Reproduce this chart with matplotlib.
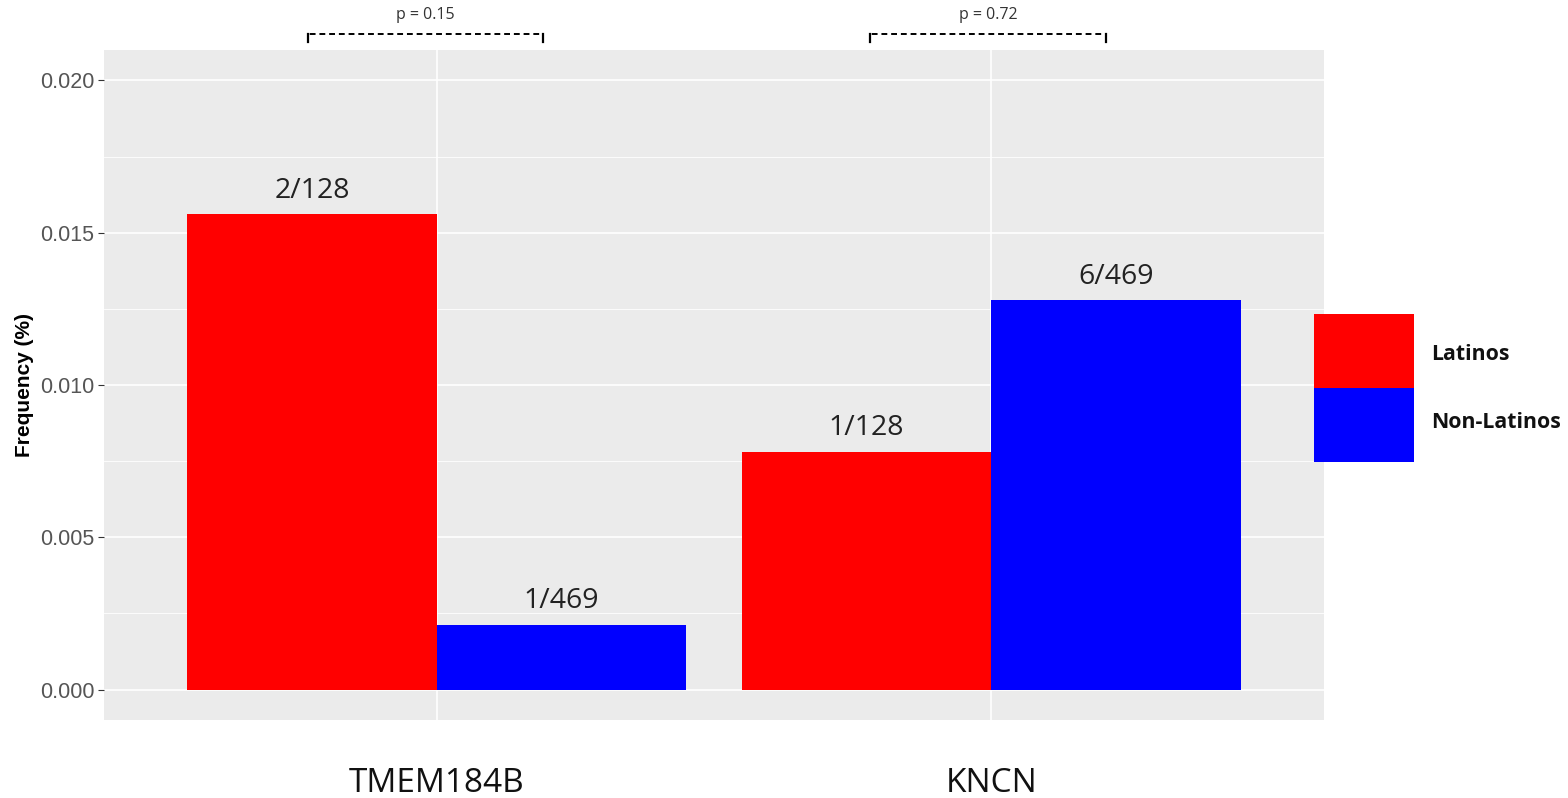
import matplotlib
matplotlib.use("Agg")
import matplotlib.pyplot as plt
from matplotlib.patches import Rectangle
import numpy as np

genes = ["TMEM184B", "KNCN"]
groups = ["Latinos", "Non-Latinos"]
latinos = [2/128, 1/128]
non_latinos = [1/469, 6/469]
lat_labels = ["2/128", "1/128"]
non_labels = ["1/469", "6/469"]
p_values = ["p = 0.15", "p = 0.72"]
colors = ["#FF0000", "#0000FF"]

W, H = 1568, 798
fig = plt.figure(figsize=(W / 100, H / 100), dpi=100)
ax = fig.add_axes([104/W, 78/H, 1220/W, 670/H])
ax.set_facecolor("#EBEBEB")

x = np.arange(1, len(genes) + 1)
w = 0.45
ax.bar(x - w/2, latinos, width=w, color=colors[0], zorder=3)
ax.bar(x + w/2, non_latinos, width=w, color=colors[1], zorder=3)

off = 0.00053
for xi, v, lab in zip(x - w/2, latinos, lat_labels):
    ax.text(xi, v + off, lab, ha="center", va="baseline", fontsize=20.5,
            family="Open Sans", color="#222222", zorder=4)
for xi, v, lab in zip(x + w/2, non_latinos, non_labels):
    ax.text(xi, v + off, lab, ha="center", va="baseline", fontsize=20.5,
            family="Open Sans", color="#222222", zorder=4)

ax.set_xlim(0.4, 2.6)
ax.set_ylim(-0.001, 0.021)
ax.set_yticks([0, 0.005, 0.010, 0.015, 0.020])
ax.set_yticklabels(["0.000", "0.005", "0.010", "0.015", "0.020"])
ax.set_yticks([0.0025, 0.0075, 0.0125, 0.0175], minor=True)
ax.set_xticks(x)
ax.set_xticklabels([])
ax.tick_params(axis="x", length=0)
ax.tick_params(axis="y", which="major", length=4, color="#333333", labelsize=15.5,
               labelcolor="#555555", pad=3)
ax.tick_params(axis="y", which="minor", length=0)
for t in ax.get_yticklabels():
    t.set_family("Liberation Sans")
ax.grid(True, which="major", color="white", linewidth=1.2, zorder=0)
ax.grid(True, which="minor", axis="y", color="white", linewidth=0.6, zorder=0)
ax.set_axisbelow(True)
for s in ax.spines.values():
    s.set_visible(False)

# category labels below the panel
for xi, g in zip(x, genes):
    ax.text(xi, -(792 - 720) / 670, g, transform=ax.get_xaxis_transform(),
            ha="center", va="baseline", fontsize=24, family="Open Sans",
            color="#111111")

ax.set_ylabel("Frequency (%)", fontsize=15, fontweight="bold",
              family=["Liberation Sans", "DejaVu Sans"], labelpad=4)

# significance brackets
brackets = [(0.767, 1.191), (1.782, 2.206)]
ytop, ybot = 0.02151, 0.02125
for (x0, x1), p in zip(brackets, p_values):
    ax.plot([x0, x0, x1, x1], [ybot, ytop, ytop, ybot], color="black",
            linestyle=(0, (3, 2)), linewidth=1.4, clip_on=False)
    ax.plot([x0, x0], [ybot, ytop], color="black", linewidth=1.6, clip_on=False)
    ax.plot([x1, x1], [ybot, ytop], color="black", linewidth=1.6, clip_on=False)
    ax.text((x0 + x1) / 2, 0.02188, p, ha="center", va="bottom", fontsize=11.5,
            family="Open Sans", color="#333333", clip_on=False)

# legend
key_tops = [314, 388]
label_y = [355, 422]
for g, c, top, ly in zip(groups, colors, key_tops, label_y):
    fig.add_artist(Rectangle((1314/W, (H - (top + 74)) / H), 100/W, 74/H,
                             transform=fig.transFigure, facecolor=c, edgecolor="none"))
    fig.text(1431/W, (H - ly) / H, g, fontsize=15.3, fontweight="bold",
             family="Open Sans", va="center", ha="left", color="#111111")

fig.savefig("out.png", dpi=100, facecolor="white")
